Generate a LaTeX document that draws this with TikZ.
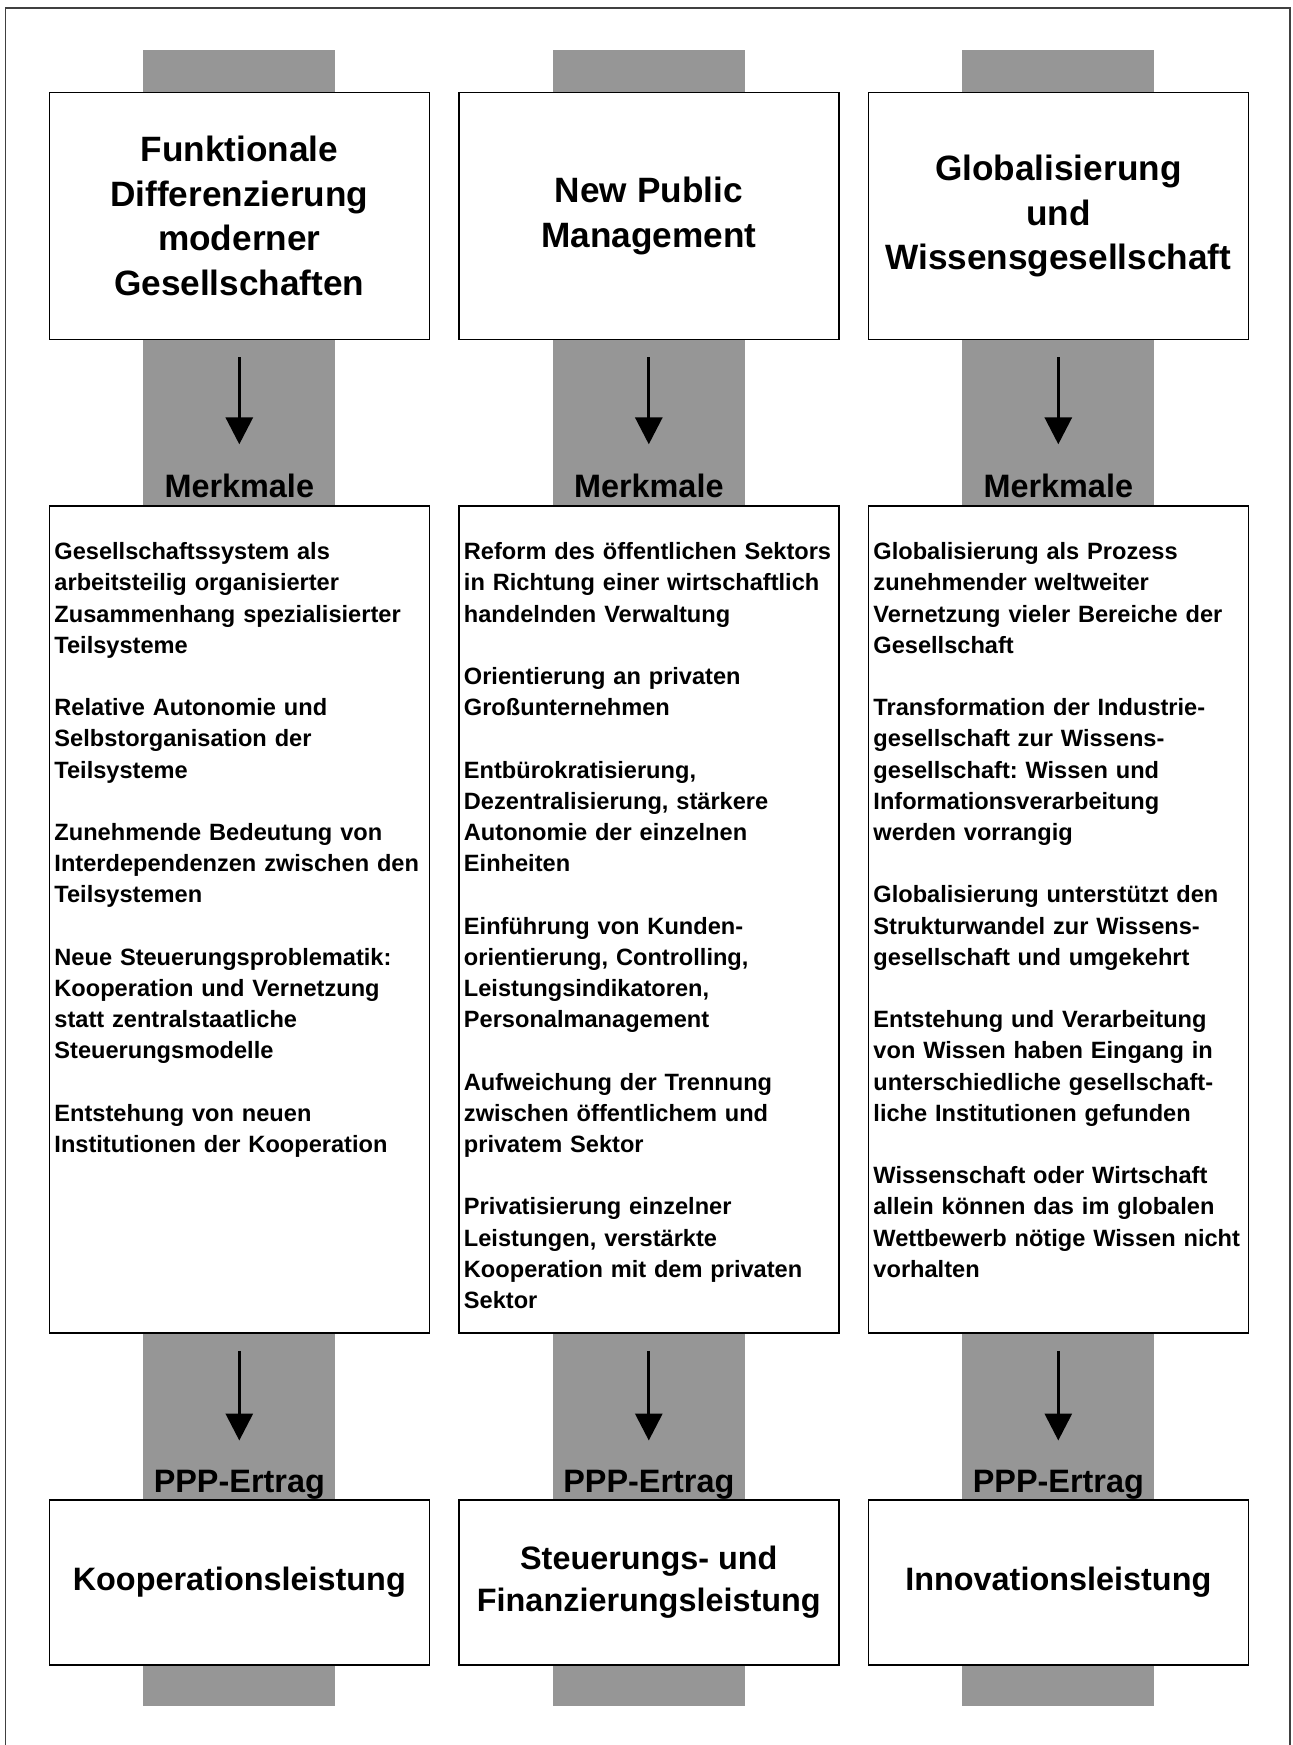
\documentclass[tikz,border=0pt]{standalone}
\usepackage{fontspec}
\setmainfont{Liberation Sans}
\usetikzlibrary{positioning,calc,arrows.meta}

\definecolor{bandgray}{RGB}{150,150,150}
\frenchspacing

\tikzset{
  band/.style={fill=bandgray},
  frame/.style={draw=black!75, line width=0.6pt},
  headbox/.style={draw, line width=0.75pt, fill=white, minimum width=190pt,
    minimum height=123.5pt, align=center,
    font=\bfseries\fontsize{17.6pt}{22.4pt}\selectfont},
  featbox/.style={draw, line width=0.75pt, fill=white, minimum width=190pt,
    minimum height=413.5pt},
  feattext/.style={anchor=north west, inner sep=0pt, text width=186pt, align=left,
    font=\bfseries\fontsize{11.8pt}{15.6pt}\selectfont},
  footbox/.style={draw, line width=0.75pt, fill=white, minimum width=190pt,
    minimum height=82.5pt, align=center,
    font=\bfseries\fontsize{16.2pt}{21.1pt}\selectfont},
  tag/.style={anchor=base, inner sep=0pt, font=\bfseries\fontsize{16.2pt}{19pt}\selectfont},
  flow/.style={-{Triangle[width=13.5pt,length=13.5pt]}, line width=1.6pt,
    shorten <=8.5pt, shorten >=14.4pt}
}

\newcommand{\gap}{\\[15.6pt]}

\begin{document}
\begin{tikzpicture}[x=0.5pt,y=-0.5pt]
  \useasboundingbox (0,0) rectangle (1292,1745);
  \clip (0,0) rectangle (1292,1745);
  % Draw outer frame (open at the bottom)
  \draw[frame] (5.5,1760) |- (1290,8) -- (1290,1760);
  % Draw gray bands
  \fill[band] (143.3,50) rectangle (335.3,1706);
  \fill[band] (552.8,50) rectangle (744.8,1706);
  \fill[band] (962.3,50) rectangle (1154.3,1706);
  % Top boxes
  \node[headbox] (head1) at (239.3,216) {Funktionale\\Differenzierung\\moderner\\Gesellschaften};
  \node[headbox] (head2) at (648.8,216) {New Public\\Management};
  \node[headbox] (head3) at (1058.3,216) {Globalisierung\\und\\Wissensgesellschaft};
  % Labels above the middle boxes
  \node[tag] (mark1) at (239.3,497)  {Merkmale};
  \node[tag] (mark2) at (648.8,497)  {Merkmale};
  \node[tag] (mark3) at (1058.3,497) {Merkmale};
  % Middle boxes
  \node[featbox] (feat1) at (239.3,919.5)  {};
  \node[featbox] (feat2) at (648.8,919.5)  {};
  \node[featbox] (feat3) at (1058.3,919.5) {};
  \node[feattext] (list1) at ($(feat1.north west)+(5.5,32.2)$) {\strut
    Gesellschaftssystem als\\arbeitsteilig organisierter\\Zusammenhang spezialisierter\\Teilsysteme\gap
    Relative Autonomie und\\Selbstorganisation der\\Teilsysteme\gap
    Zunehmende Bedeutung von\\Interdependenzen zwischen den\\Teilsystemen\gap
    Neue Steuerungsproblematik:\\Kooperation und Vernetzung\\statt zentralstaatliche\\Steuerungsmodelle\gap
    Entstehung von neuen\\Institutionen der Kooperation};
  \node[feattext] (list2) at ($(feat2.north west)+(5.5,32.2)$) {\strut
    Reform des öffentlichen Sektors\\in Richtung einer wirtschaftlich\\handelnden Verwaltung\gap
    Orientierung an privaten\\Großunternehmen\gap
    Entbürokratisierung,\\Dezentralisierung, stärkere\\Autonomie der einzelnen\\Einheiten\gap
    Einführung von Kunden-\\orientierung, Controlling,\\Leistungsindikatoren,\\Personalmanagement\gap
    Aufweichung der Trennung\\zwischen öffentlichem und\\privatem Sektor\gap
    Privatisierung einzelner\\Leistungen, verstärkte\\Kooperation mit dem privaten\\Sektor};
  \node[feattext] (list3) at ($(feat3.north west)+(5.5,32.2)$) {\strut
    Globalisierung als Prozess\\zunehmender weltweiter\\Vernetzung vieler Bereiche der\\Gesellschaft\gap
    Transformation der Industrie-\\gesellschaft zur Wissens-\\gesellschaft: Wissen und\\Informationsverarbeitung\\werden vorrangig\gap
    Globalisierung unterstützt den\\Strukturwandel zur Wissens-\\gesellschaft und umgekehrt\gap
    Entstehung und Verarbeitung\\von Wissen haben Eingang in\\unterschiedliche gesellschaft-\\liche Institutionen gefunden\gap
    Wissenschaft oder Wirtschaft\\allein können das im globalen\\Wettbewerb nötige Wissen nicht\\vorhalten};
  % Labels above the bottom boxes
  \node[tag] (gain1) at (239.3,1492)  {PPP-Ertrag};
  \node[tag] (gain2) at (648.8,1492)  {PPP-Ertrag};
  \node[tag] (gain3) at (1058.3,1492) {PPP-Ertrag};
  % Bottom boxes
  \node[footbox] (foot1) at (239.3,1582.5)  {Kooperationsleistung};
  \node[footbox] (foot2) at (648.8,1582.5)  {Steuerungs- und\\Finanzierungsleistung};
  \node[footbox] (foot3) at (1058.3,1582.5) {Innovationsleistung};
  % Draw arrows
  \draw[flow] (head1.south) -- (mark1.north);
  \draw[flow] (head2.south) -- (mark2.north);
  \draw[flow] (head3.south) -- (mark3.north);
  \draw[flow] (feat1.south) -- (gain1.north);
  \draw[flow] (feat2.south) -- (gain2.north);
  \draw[flow] (feat3.south) -- (gain3.north);
\end{tikzpicture}
\end{document}
